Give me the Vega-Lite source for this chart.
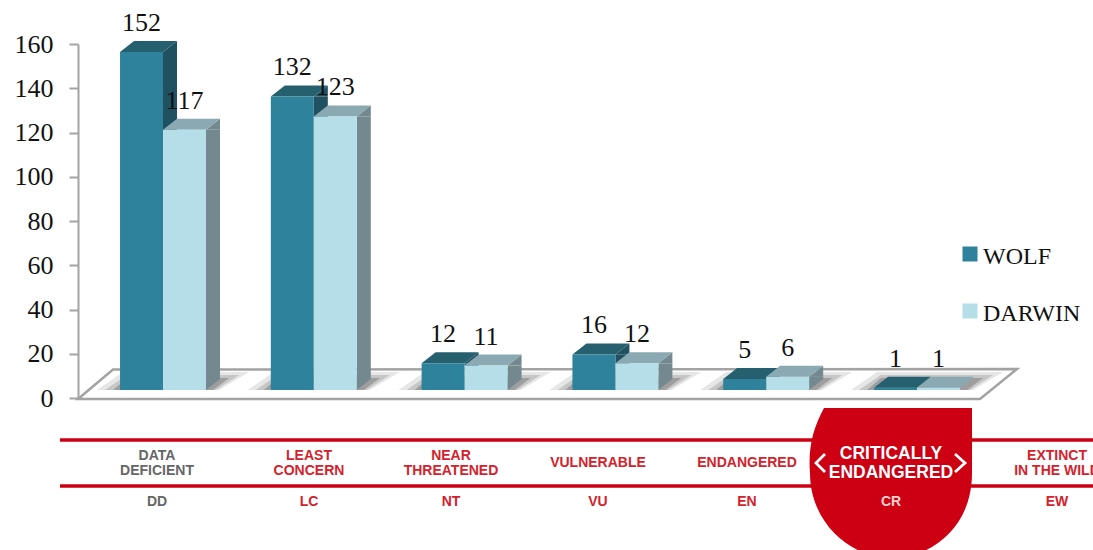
{
"$schema":"https://vega.github.io/schema/vega-lite/v6.json",
"autosize":{"type":"none"},
"padding":{"left":78,"top":0,"right":0,"bottom":0},
"width":1015,"height":550,
"background":"#ffffff",
"view":{"stroke":null},
"datasets":{
"bars":[
{"category":"DD","series":"WOLF","value":152},{"category":"DD","series":"DARWIN","value":117},
{"category":"LC","series":"WOLF","value":132},{"category":"LC","series":"DARWIN","value":123},
{"category":"NT","series":"WOLF","value":12},{"category":"NT","series":"DARWIN","value":11},
{"category":"VU","series":"WOLF","value":16},{"category":"VU","series":"DARWIN","value":12},
{"category":"EN","series":"WOLF","value":5},{"category":"EN","series":"DARWIN","value":6},
{"category":"CR","series":"WOLF","value":1},{"category":"CR","series":"DARWIN","value":1}],
"statuses":[
{"rank":1,"name":"DATA\nDEFICIENT","code":"DD"},
{"rank":2,"name":"LEAST\nCONCERN","code":"LC"},
{"rank":3,"name":"NEAR\nTHREATENED","code":"NT"},
{"rank":4,"name":"VULNERABLE","code":"VU"},
{"rank":5,"name":"ENDANGERED","code":"EN"},
{"rank":6,"name":"CRITICALLY\nENDANGERED","code":"CR"},
{"rank":7,"name":"EXTINCT\nIN THE WILD","code":"EW"}],
"lines":[{"level":0},{"level":1}]
},
"resolve":{"scale":{"x":"independent","y":"independent"}},
"layer":[
{"data":{"name":"bars"},
 "mark":{"type":"point","opacity":0},
 "encoding":{"y":{"field":"value","type":"quantitative","scale":{"domain":[0,160],"range":[398,44],"nice":false,"zero":false},
  "axis":{"values":[0,20,40,60,80,100,120,140,160],"title":null,"grid":false,"domainColor":"#a3a3a3","domainWidth":2,"tickColor":"#a3a3a3","tickWidth":2,"tickSize":9,"labelPadding":16,"labelFont":"Liberation Serif","labelFontSize":26,"labelColor":"#111111"}}}},
{"data":{"name":"bars"},
 "encoding":{
  "x":{"field":"category","type":"nominal","axis":null,"scale":{"type":"band","domain":["DD","LC","NT","VU","EN","CR"],"range":[9.6,914.4],"paddingInner":0.43,"paddingOuter":0.215}},
  "y":{"field":"value","type":"quantitative","axis":null,"scale":{"domain":[0,152],"range":[390,52],"nice":false,"zero":false}}},
 "layer":[
  {"transform":[{"filter":"datum.category==='DD' && datum.series==='WOLF'"}],
   "mark":{"type":"point","shape":"M-85,9L-50,-20.5L854,-21L817,9Z","size":4,"filled":true,"fill":"#ffffff","stroke":"#a3a3a3","strokeWidth":2.5,"opacity":1},
   "encoding":{"y":{"datum":0}}},
  {"transform":[{"filter":"datum.series==='WOLF'"}],
   "mark":{"type":"point","shape":"M-66,0L56,0L86,-18L-40,-18Z","size":4,"filled":true,"fill":"#e6e6e6","strokeWidth":0,"opacity":1},
   "encoding":{"y":{"datum":0}}},
  {"transform":[{"filter":"datum.series==='WOLF'"}],
   "mark":{"type":"point","shape":"M-58,0L53,0L76,-15L-36,-15Z","size":4,"filled":true,"fill":"#c6c6c6","strokeWidth":0,"opacity":1},
   "encoding":{"y":{"datum":0}}},
  {"transform":[{"filter":"datum.series==='WOLF'"}],
   "mark":{"type":"point","shape":"M-50,0L50,0L66,-12L-36,-12Z","size":4,"filled":true,"fill":"#9e9e9e","strokeWidth":0,"opacity":1},
   "encoding":{"y":{"datum":0}}},
  {"transform":[{"filter":"datum.value>1 && datum.series==='WOLF'"}],
   "mark":{"type":"bar","width":14,"xOffset":7,"y2Offset":-11,"opacity":1,"color":"#1f5161"},
   "encoding":{"y2":{"datum":0}}},
  {"transform":[{"filter":"datum.value>1 && datum.series==='DARWIN'"}],
   "mark":{"type":"bar","width":14,"xOffset":50,"y2Offset":-11,"opacity":1,"color":"#74898f"},
   "encoding":{"y2":{"datum":0}}},
  {"transform":[{"filter":"datum.value>1"}],
   "mark":{"type":"point","shape":"M21.5,0L35.5,-11L35.5,0Z","size":4,"filled":true,"strokeWidth":0,"opacity":1},
   "encoding":{"xOffset":{"field":"series","scale":{"domain":["WOLF","DARWIN"],"paddingInner":0,"paddingOuter":0}},
    "color":{"condition":{"test":"datum.series==='WOLF'","value":"#1f5161"},"value":"#74898f"}}},
  {"transform":[{"filter":"datum.value>1"}],
   "mark":{"type":"point","shape":"M21.5,-11L21.5,0L35.5,-11Z","size":4,"filled":true,"strokeWidth":0,"opacity":1},
   "encoding":{"y":{"datum":0},"xOffset":{"field":"series","scale":{"domain":["WOLF","DARWIN"],"paddingInner":0,"paddingOuter":0}},
    "color":{"condition":{"test":"datum.series==='WOLF'","value":"#1f5161"},"value":"#74898f"}}},
  {"mark":{"type":"point","shape":"M-21.5,0L21.5,0L35.5,-11L-7.5,-11Z","size":4,"filled":true,"strokeWidth":0,"opacity":1},
   "encoding":{"xOffset":{"field":"series","scale":{"domain":["WOLF","DARWIN"],"paddingInner":0,"paddingOuter":0}},
    "color":{"condition":{"test":"datum.series==='WOLF'","value":"#26606f"},"value":"#8aa9b2"}}},
  {"mark":{"type":"bar","opacity":1},
   "encoding":{"xOffset":{"field":"series","scale":{"domain":["WOLF","DARWIN"],"paddingInner":0,"paddingOuter":0}},
    "y2":{"datum":0},
    "color":{"field":"series","type":"nominal","scale":{"domain":["WOLF","DARWIN"],"range":["#2f829b","#b5dee9"]},
     "legend":{"orient":"none","legendX":880,"legendY":242,"title":null,"symbolType":"square","symbolSize":225,"symbolStrokeWidth":0,"symbolOpacity":1,"labelFont":"Liberation Serif","labelFontSize":24,"labelColor":"#111111","labelOffset":1,"rowPadding":30,"labelLimit":200,"encode":{"labels":{"update":{"dy":{"value":3}}}}}}}},
  {"mark":{"type":"text","font":"Liberation Serif","fontSize":26,"color":"#111111","baseline":"middle","dy":-29},
   "encoding":{"xOffset":{"field":"series","scale":{"domain":["WOLF","DARWIN"],"paddingInner":0,"paddingOuter":0}},
    "text":{"field":"value","type":"quantitative"}}}
 ]},
{"data":{"name":"lines"},
 "mark":{"type":"rule","color":"#cc0012","strokeWidth":3.5},
 "encoding":{
  "x":{"datum":0,"type":"quantitative","axis":null,"scale":{"domain":[0,1],"range":[-18,1015],"nice":false,"zero":false}},
  "x2":{"datum":1},
  "y":{"field":"level","type":"quantitative","axis":null,"scale":{"domain":[0,1],"range":[440,486],"nice":false,"zero":false}}}},
{"data":{"name":"statuses"},
 "encoding":{
  "x":{"field":"rank","type":"quantitative","axis":null,"scale":{"type":"linear","domain":[1,2,3,4,5,6,7],"range":[79,231,373,520,669,813,979],"nice":false,"zero":false}},
  "y":{"datum":0.5,"type":"quantitative","axis":null,"scale":{"domain":[0,1],"range":[440,486],"nice":false,"zero":false}}},
 "layer":[
  {"transform":[{"filter":"datum.rank===6"}],
   "mark":{"type":"point","shape":"M-67,-55L81,-55L81,10C81,65 40,95 0,95C-40,95 -81,60 -81,10C-83,-15 -78,-35 -67,-55Z","size":4,"filled":true,"fill":"#cc0012","strokeWidth":0,"opacity":1}},
  {"transform":[{"filter":"datum.rank===6"}],
   "mark":{"type":"point","shape":"M-66,-9L-75,0L-66,9M64,-9L74,0L64,9","size":4,"filled":false,"stroke":"#ffffff","strokeWidth":2.8,"opacity":1}},
  {"transform":[{"filter":"datum.rank!==6 && indexof(datum.name,'\\n')>=0"}],
   "mark":{"type":"text","font":"Liberation Sans","fontWeight":"bold","fontSize":14,"lineBreak":"\n","lineHeight":15,"baseline":"middle","dy":-7.5},
   "encoding":{"text":{"field":"name"},"color":{"condition":{"test":"datum.rank===1","value":"#666666"},"value":"#d4222c"}}},
  {"transform":[{"filter":"indexof(datum.name,'\\n')<0"}],
   "mark":{"type":"text","font":"Liberation Sans","fontWeight":"bold","fontSize":14,"baseline":"middle","color":"#d4222c"},
   "encoding":{"text":{"field":"name"}}},
  {"transform":[{"filter":"datum.rank===6"}],
   "mark":{"type":"text","font":"Liberation Sans","fontWeight":"bold","fontSize":17.5,"lineBreak":"\n","lineHeight":19,"baseline":"middle","color":"#ffffff","dy":-9.5},
   "encoding":{"text":{"field":"name"}}},
  {"mark":{"type":"text","font":"Liberation Sans","fontWeight":"bold","fontSize":14,"baseline":"middle"},
   "encoding":{"y":{"datum":1.35,"type":"quantitative"},"text":{"field":"code"},
    "color":{"condition":[{"test":"datum.rank===1","value":"#666666"},{"test":"datum.rank===6","value":"#f4d0d0"}],"value":"#d4222c"}}}
 ]}
]
}
